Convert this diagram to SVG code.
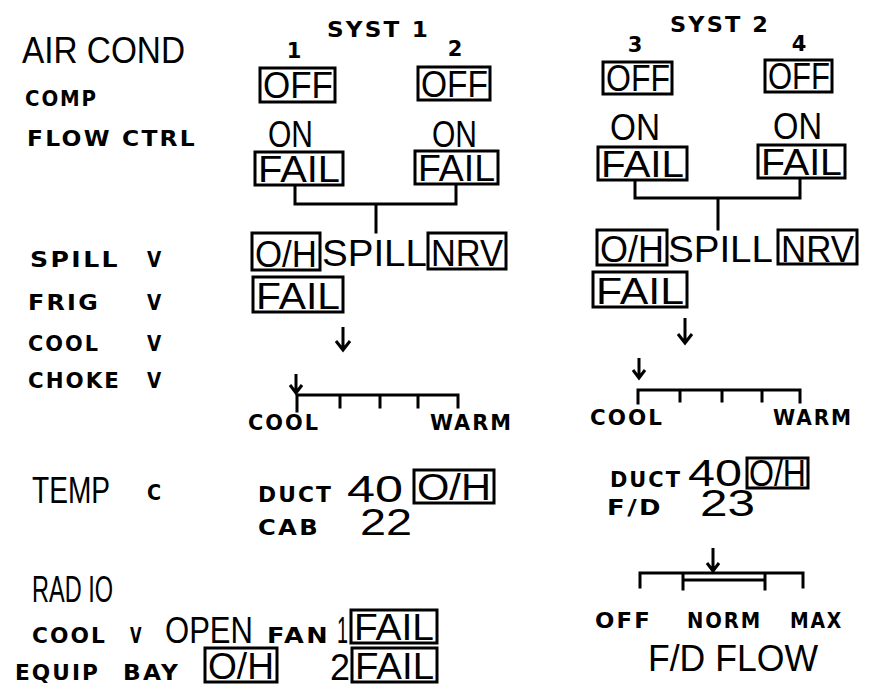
<svg xmlns="http://www.w3.org/2000/svg" width="876" height="695" viewBox="0 0 876 695">
<style>
.L{font-family:"Liberation Sans",Arial,sans-serif;font-size:36px;fill:#000}
.S{font-family:"DejaVu Sans",Verdana,sans-serif;font-weight:bold;font-size:21px;letter-spacing:2px;fill:#000}
.b{fill:none;stroke:#000;stroke-width:3}
.c{fill:none;stroke:#000;stroke-width:3;stroke-linecap:square}
.a{fill:none;stroke:#000;stroke-width:3}
</style>
<rect width="876" height="695" fill="#fff"/>

<g id="labels-left">
<text class="L" x="22" y="63" font-size="38" textLength="163" lengthAdjust="spacingAndGlyphs">AIR COND</text>
<text class="S" x="25" y="106" textLength="73" lengthAdjust="spacingAndGlyphs">COMP</text>
<text class="S" x="27" y="146" textLength="170" lengthAdjust="spacingAndGlyphs">FLOW CTRL</text>
<text class="S" x="30" y="267" textLength="90" lengthAdjust="spacingAndGlyphs">SPILL</text>
<text class="S" x="147" y="267" textLength="16" lengthAdjust="spacingAndGlyphs">V</text>
<text class="S" x="28" y="310" textLength="72" lengthAdjust="spacingAndGlyphs">FRIG</text>
<text class="S" x="147" y="310" textLength="16" lengthAdjust="spacingAndGlyphs">V</text>
<text class="S" x="28" y="351" textLength="72" lengthAdjust="spacingAndGlyphs">COOL</text>
<text class="S" x="147" y="351" textLength="16" lengthAdjust="spacingAndGlyphs">V</text>
<text class="S" x="28" y="388" textLength="93" lengthAdjust="spacingAndGlyphs">CHOKE</text>
<text class="S" x="147" y="388" textLength="16" lengthAdjust="spacingAndGlyphs">V</text>
<text class="L" x="32" y="503" font-size="38" textLength="78" lengthAdjust="spacingAndGlyphs">TEMP</text>
<text class="S" x="147" y="500" font-size="17" textLength="16" lengthAdjust="spacingAndGlyphs">C</text>
<text class="L" x="32" y="602" textLength="81" lengthAdjust="spacingAndGlyphs">RAD IO</text>
</g>

<g id="syst1-header">
<text class="S" x="327" y="37" font-size="20" textLength="103" lengthAdjust="spacingAndGlyphs">SYST 1</text>
<text class="S" x="295" y="58" font-size="17" text-anchor="middle">1</text>
<text class="S" x="456" y="56" font-size="17" text-anchor="middle">2</text>
</g>
<g id="syst2-header">
<text class="S" x="670" y="32" font-size="20" textLength="100" lengthAdjust="spacingAndGlyphs">SYST 2</text>
<text class="S" x="636" y="52" font-size="17" text-anchor="middle">3</text>
<text class="S" x="800" y="51" font-size="17" text-anchor="middle">4</text>
</g>

<g id="comp1-off"><rect class="b" x="260" y="68" width="75" height="34"/><text class="L" x="263" y="98" font-size="34" textLength="70" lengthAdjust="spacingAndGlyphs">OFF</text></g>
<g id="comp2-off"><rect class="b" x="418" y="67" width="72" height="33"/><text class="L" x="421" y="97" font-size="34" textLength="67" lengthAdjust="spacingAndGlyphs">OFF</text></g>
<g id="comp3-off"><rect class="b" x="603" y="62" width="69" height="32"/><text class="L" x="606" y="91" font-size="33" textLength="64" lengthAdjust="spacingAndGlyphs">OFF</text></g>
<g id="comp4-off"><rect class="b" x="765" y="60" width="67" height="32"/><text class="L" x="768" y="89" font-size="33" textLength="62" lengthAdjust="spacingAndGlyphs">OFF</text></g>

<g id="flow1-on"><text class="L" x="268" y="147" font-size="38" textLength="45" lengthAdjust="spacingAndGlyphs">ON</text></g>
<g id="flow2-on"><text class="L" x="432" y="147" font-size="38" textLength="45" lengthAdjust="spacingAndGlyphs">ON</text></g>
<g id="flow3-on"><text class="L" x="610" y="140" font-size="38" textLength="50" lengthAdjust="spacingAndGlyphs">ON</text></g>
<g id="flow4-on"><text class="L" x="773" y="139" font-size="38" textLength="49" lengthAdjust="spacingAndGlyphs">ON</text></g>

<g id="flow1-fail"><rect class="b" x="255" y="152" width="88" height="33"/><text class="L" x="258" y="182" font-size="34" textLength="82" lengthAdjust="spacingAndGlyphs">FAIL</text></g>
<g id="flow2-fail"><rect class="b" x="415" y="151" width="83" height="33"/><text class="L" x="418" y="181" font-size="34" textLength="77" lengthAdjust="spacingAndGlyphs">FAIL</text></g>
<g id="flow3-fail"><rect class="b" x="598" y="147" width="89" height="33"/><text class="L" x="601" y="177" font-size="34" textLength="83" lengthAdjust="spacingAndGlyphs">FAIL</text></g>
<g id="flow4-fail"><rect class="b" x="758" y="145" width="87" height="33"/><text class="L" x="761" y="175" font-size="34" textLength="81" lengthAdjust="spacingAndGlyphs">FAIL</text></g>

<g id="spill1">
<rect class="b" x="252" y="233" width="68" height="37"/><text class="L" x="255" y="267" textLength="62" lengthAdjust="spacingAndGlyphs">O/H</text>
<text class="L" x="322" y="266" textLength="105" lengthAdjust="spacingAndGlyphs">SPILL</text>
<rect class="b" x="428" y="233" width="78" height="36"/><text class="L" x="431" y="266" textLength="72" lengthAdjust="spacingAndGlyphs">NRV</text>
</g>
<g id="frig1-fail"><rect class="b" x="253" y="277" width="90" height="35"/><text class="L" x="256" y="309" textLength="84" lengthAdjust="spacingAndGlyphs">FAIL</text></g>

<g id="spill2">
<rect class="b" x="597" y="230" width="70" height="35"/><text class="L" x="600" y="262" textLength="64" lengthAdjust="spacingAndGlyphs">O/H</text>
<text class="L" x="668" y="262" textLength="105" lengthAdjust="spacingAndGlyphs">SPILL</text>
<rect class="b" x="778" y="230" width="79" height="34"/><text class="L" x="781" y="262" textLength="73" lengthAdjust="spacingAndGlyphs">NRV</text>
</g>
<g id="frig2-fail"><rect class="b" x="593" y="272" width="94" height="35"/><text class="L" x="596" y="304" textLength="88" lengthAdjust="spacingAndGlyphs">FAIL</text></g>

<g id="connectors">
<path class="c" d="M295 186 V204 H456 V185 M376 204 V232"/>
<path class="c" d="M635 181 V198 H800 V179 M718 198 V229"/>
<path class="a" d="M343 327 V350 M336 341 L343 350 L350 341"/>
<path class="a" d="M685 318 V343 M678 334 L685 343 L692 334"/>
</g>

<g id="choke1-scale">
<path class="a" d="M296 374 V393 M290 385 L296 393 L302 385"/>
<path class="c" d="M297 411 V395 H458 V407 M340 395 V407 M380 395 V407 M418 395 V407"/>
<text class="S" x="248" y="430" textLength="72" lengthAdjust="spacingAndGlyphs">COOL</text>
<text class="S" x="430" y="430" textLength="83" lengthAdjust="spacingAndGlyphs">WARM</text>
</g>
<g id="choke2-scale">
<path class="a" d="M639 358 V378 M633 370 L639 378 L645 370"/>
<path class="c" d="M638 403 V390 H800 V402 M680 390 V401 M722 390 V401 M762 390 V401"/>
<text class="S" x="590" y="425" textLength="74" lengthAdjust="spacingAndGlyphs">COOL</text>
<text class="S" x="773" y="425" textLength="80" lengthAdjust="spacingAndGlyphs">WARM</text>
</g>

<g id="temp1">
<text class="S" x="258" y="502" textLength="75" lengthAdjust="spacingAndGlyphs">DUCT</text>
<text class="L" x="347" y="502" font-size="38" textLength="56" lengthAdjust="spacingAndGlyphs">40</text>
<rect class="b" x="414" y="470" width="80" height="33"/><text class="L" x="417" y="500" font-size="34" textLength="74" lengthAdjust="spacingAndGlyphs">O/H</text>
<text class="S" x="258" y="535" textLength="62" lengthAdjust="spacingAndGlyphs">CAB</text>
<text class="L" x="360" y="535" font-size="38" textLength="52" lengthAdjust="spacingAndGlyphs">22</text>
</g>
<g id="temp2">
<text class="S" x="610" y="487" textLength="72" lengthAdjust="spacingAndGlyphs">DUCT</text>
<text class="L" x="688" y="486" font-size="33" textLength="54" lengthAdjust="spacingAndGlyphs">40</text>
<rect class="b" x="747" y="458" width="61" height="30"/><text class="L" x="749" y="486" font-size="31" textLength="57" lengthAdjust="spacingAndGlyphs">O/H</text>
<text class="S" x="607" y="515" textLength="56" lengthAdjust="spacingAndGlyphs">F/D</text>
<text class="L" x="700" y="516" font-size="33" textLength="55" lengthAdjust="spacingAndGlyphs">23</text>
</g>

<g id="fd-flow">
<path class="a" d="M713 548 V571 M707 563 L713 571 L719 563"/>
<path class="c" d="M640 587 V573 H803 V587 M683 573 V589 M765 573 V589 M683 580 H765"/>
<text class="S" x="595" y="628" font-size="19" textLength="57" lengthAdjust="spacingAndGlyphs">OFF</text>
<text class="S" x="687" y="628" font-size="19" textLength="75" lengthAdjust="spacingAndGlyphs">NORM</text>
<text class="S" x="790" y="628" font-size="19" textLength="53" lengthAdjust="spacingAndGlyphs">MAX</text>
<text class="L" x="648" y="671" font-size="38" textLength="170" lengthAdjust="spacingAndGlyphs">F/D FLOW</text>
</g>

<g id="radio">
<text class="S" x="32" y="643" textLength="75" lengthAdjust="spacingAndGlyphs">COOL</text>
<text class="S" x="130" y="643" textLength="13" lengthAdjust="spacingAndGlyphs">V</text>
<text class="L" x="165" y="643" font-size="38" textLength="88" lengthAdjust="spacingAndGlyphs">OPEN</text>
<text class="S" x="267" y="643" textLength="63" lengthAdjust="spacingAndGlyphs">FAN</text>
<text class="L" x="337" y="643" font-size="36" textLength="11" lengthAdjust="spacingAndGlyphs">1</text>
<rect class="b" x="351" y="610" width="86" height="33"/><text class="L" x="354" y="640" font-size="34" textLength="80" lengthAdjust="spacingAndGlyphs">FAIL</text>
<text class="S" x="15" y="680" textLength="85" lengthAdjust="spacingAndGlyphs">EQUIP</text>
<text class="S" x="123" y="680" textLength="57" lengthAdjust="spacingAndGlyphs">BAY</text>
<rect class="b" x="205" y="648" width="72" height="34"/><text class="L" x="208" y="679" font-size="34" textLength="66" lengthAdjust="spacingAndGlyphs">O/H</text>
<text class="L" x="330" y="680" font-size="36" textLength="20" lengthAdjust="spacingAndGlyphs">2</text>
<rect class="b" x="352" y="648" width="85" height="34"/><text class="L" x="355" y="679" font-size="34" textLength="79" lengthAdjust="spacingAndGlyphs">FAIL</text>
</g>
</svg>
